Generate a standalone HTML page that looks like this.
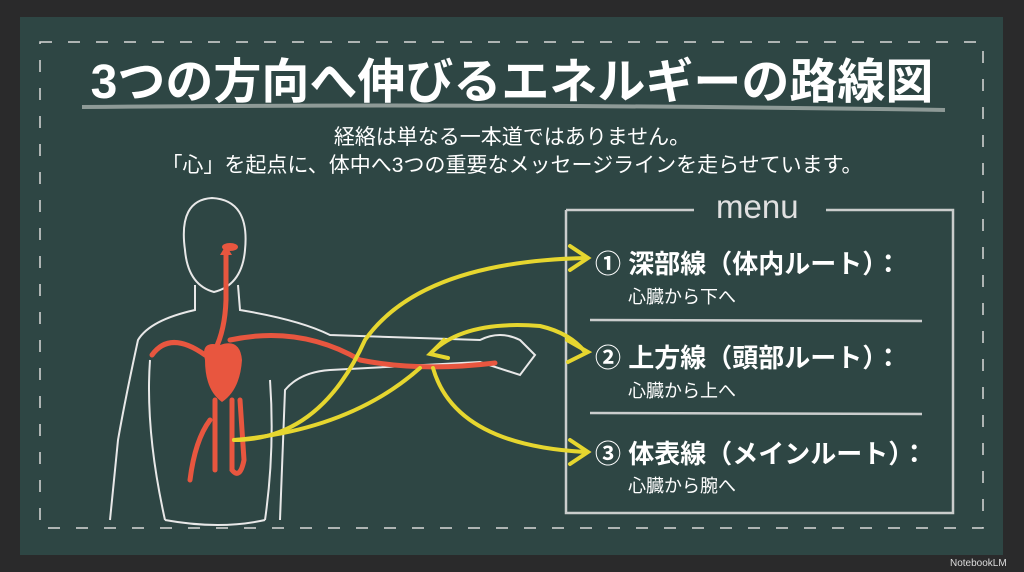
<!DOCTYPE html>
<html><head><meta charset="utf-8"><style>
html,body{margin:0;padding:0;width:1024px;height:572px;overflow:hidden;background:#2a2a2b;}
.t{position:absolute;color:#fff;font-family:"Liberation Sans","Noto Sans CJK JP",sans-serif;white-space:nowrap;}
</style></head><body>
<div style="position:absolute;left:20px;top:17px;width:983px;height:538px;background:#2e4644;"></div>
<svg width="1024" height="572" style="position:absolute;left:0;top:0">
<rect x="40" y="42" width="943" height="486" fill="none" stroke="#d8d8d8" stroke-width="1.5" stroke-dasharray="12,16"/>
<path d="M82 107 Q500 103 945 110" stroke="#cfd2cf" stroke-width="4" fill="none" opacity="0.6"/>
<g stroke="#dcdcdc" stroke-width="2.5" fill="none" opacity="0.9">
<path d="M566 210 L566 513 L953 513 L953 210 L826 210"/>
<path d="M566 210 L694 210" />
<path d="M590 320 L922 321"/><path d="M590 413 L922 414"/>
</g>
<g stroke="#e8e8e8" stroke-width="2" fill="none">
<path d="M185 250 Q178 200 212 198 Q250 200 245 250 Q242 285 214 292 Q188 285 185 250 Z"/>
<path d="M195 285 L195 310 Q150 320 138 340 Q125 400 118 440 L110 520"/>
<path d="M238 285 L240 310 Q300 320 330 335 L480 340 Q500 330 520 340 L535 355 L520 375 L480 362 L330 370 Q300 372 285 390 L280 520"/>
<path d="M150 360 Q145 430 165 520"/>
<path d="M270 380 Q275 450 265 520"/>
<path d="M165 520 Q220 530 265 520"/>
</g>
<g stroke="#e8563f" stroke-width="5" fill="none" stroke-linecap="round">
<path d="M226 250 L226 300 Q225 330 215 350"/>
<path d="M205 355 Q170 330 152 355"/>
<path d="M230 340 Q300 325 360 360 Q420 372 495 363"/>
<path d="M215 400 L215 470"/><path d="M232 400 L232 470 Q240 480 244 460 L240 400"/>
<path d="M210 420 Q195 440 190 480"/>
</g>
<path d="M205 360 Q200 340 220 345 Q240 338 242 360 Q240 390 222 402 Q205 390 205 360Z" fill="#e8563f"/>
<path d="M226 245 l-6 10 h12z" fill="#e8563f"/>
<ellipse cx="230" cy="247" rx="8" ry="4" fill="#e8563f"/>
<g stroke="#e6d62f" stroke-width="4" fill="none" stroke-linecap="round">
<path d="M234 440 Q320 440 365 340 Q420 262 585 258"/>
<path d="M234 440 Q350 430 420 368"/>
<path d="M432 352 Q465 320 540 326 Q570 333 585 352"/>
<path d="M433 368 Q455 445 585 452"/>
<path d="M570 246 L588 258 L570 270"/>
<path d="M567 340 L588 352 L568 362"/>
<path d="M570 440 L588 452 L570 464"/>
<path d="M444 340 L430 354 L448 358"/>
</g>
</svg>
<div class="t" style="left:0;width:1024px;text-align:center;top:42px;font-size:48px;font-weight:bold;">3つの方向へ伸びるエネルギーの路線図</div>
<div class="t" style="left:0;width:1024px;text-align:center;top:121px;font-size:21px;">経絡は単なる一本道ではありません。</div>
<div class="t" style="left:0;width:1024px;text-align:center;top:149px;font-size:21px;">「心」を起点に、体中へ3つの重要なメッセージラインを走らせています。</div>
<div class="t" style="left:716px;top:188px;font-size:33px;color:#e0e0e0;">menu</div>
<div class="t" style="left:595px;top:244px;font-size:26px;font-weight:bold;">① 深部線（体内ルート）：</div>
<div class="t" style="left:628px;top:283px;font-size:18px;">心臓から下へ</div>
<div class="t" style="left:595px;top:338px;font-size:26px;font-weight:bold;">② 上方線（頭部ルート）：</div>
<div class="t" style="left:628px;top:377px;font-size:18px;">心臓から上へ</div>
<div class="t" style="left:595px;top:434px;font-size:26px;font-weight:bold;">③ 体表線（メインルート）：</div>
<div class="t" style="left:628px;top:472px;font-size:18px;">心臓から腕へ</div>
<div class="t" style="left:950px;top:558px;font-size:10px;color:#ddd;">NotebookLM</div>
</body></html>
